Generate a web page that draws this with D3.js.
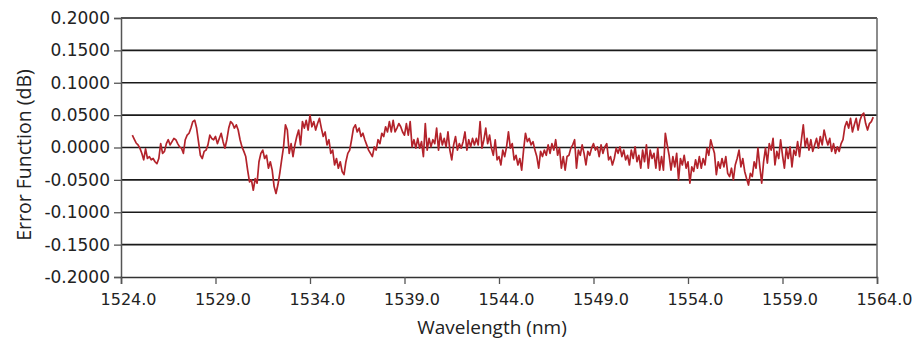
<!DOCTYPE html>
<html>
<head>
<meta charset="utf-8">
<script src="https://cdn.jsdelivr.net/npm/d3@7"></script>
<style>
  html, body { margin: 0; padding: 0; background: #ffffff; }
  svg { display: block; }
</style>
</head>
<body>
<svg id="chart" width="920" height="341"></svg>
<script>
// ---- data (error function in dB, sampled every 0.1 nm from 1524.6 nm) ----
const startWavelength = 1524.6;
const sampleStep = 0.1;
const errorValues = [
  0.019,0.013,0.007,0.004,-0.001,-0.009,-0.019,-0.002,-0.017,-0.014,
  -0.019,-0.017,-0.022,-0.025,-0.017,0.006,-0.009,-0.006,0.006,0.012,
  0.004,0.009,0.014,0.012,0.006,0.001,-0.001,-0.009,0.012,0.019,
  0.022,0.030,0.040,0.042,0.030,0.009,-0.012,-0.017,-0.006,-0.004,
  0.004,0.019,0.014,0.012,0.017,0.006,0.014,0.022,0.009,-0.001,
  0.012,0.030,0.040,0.037,0.030,0.035,0.027,0.012,0.001,-0.006,
  -0.014,-0.035,-0.053,-0.050,-0.066,-0.048,-0.055,-0.022,-0.009,-0.004,
  -0.017,-0.012,-0.032,-0.022,-0.035,-0.060,-0.071,-0.058,-0.040,-0.019,
  0.001,0.035,0.027,-0.009,0.006,-0.014,0.004,0.017,0.027,0.004,
  0.040,0.030,0.042,0.027,0.050,0.032,0.040,0.027,0.037,0.045,
  0.030,0.017,0.024,0.004,0.012,-0.009,-0.004,-0.027,-0.017,-0.032,
  -0.022,-0.037,-0.042,-0.022,-0.009,-0.004,0.012,0.030,0.035,0.024,
  0.030,0.017,0.022,0.012,0.004,-0.004,-0.009,-0.014,0.001,-0.004,
  0.012,0.006,0.022,0.017,0.032,0.024,0.040,0.024,0.042,0.024,
  0.030,0.037,0.032,0.024,0.019,0.037,0.019,0.040,0.001,0.012,
  -0.001,0.014,-0.001,0.009,-0.014,0.037,-0.004,0.014,0.001,0.012,
  0.006,0.030,-0.004,0.022,0.004,0.014,0.001,0.024,-0.004,-0.019,
  0.004,0.017,-0.004,0.006,-0.001,0.009,0.024,-0.004,0.012,0.001,
  0.014,0.004,0.014,0.004,0.040,-0.001,0.012,0.030,0.006,0.019,
  -0.001,-0.012,0.012,-0.019,-0.014,-0.027,-0.004,-0.014,0.001,0.024,
  -0.001,0.006,-0.019,-0.012,-0.027,-0.017,-0.035,-0.004,0.022,0.009,
  0.014,0.004,0.009,-0.004,-0.014,-0.032,-0.006,-0.014,-0.004,-0.012,
  0.004,-0.009,0.006,-0.004,0.012,-0.012,-0.001,-0.032,-0.014,-0.035,
  -0.014,-0.012,-0.001,0.004,0.012,-0.032,-0.004,-0.012,0.004,-0.009,
  -0.027,-0.006,-0.012,-0.001,0.006,-0.004,0.001,-0.014,0.004,-0.009,
  0.001,0.006,-0.019,-0.014,-0.027,-0.017,-0.001,-0.009,0.001,-0.014,
  -0.004,-0.019,-0.012,-0.027,-0.004,-0.017,0.001,-0.022,-0.012,-0.032,
  -0.004,-0.022,0.004,-0.032,-0.004,-0.017,-0.009,-0.032,-0.001,-0.035,
  -0.014,-0.035,0.022,0.004,-0.012,-0.035,-0.014,-0.030,-0.009,-0.050,
  -0.017,-0.027,-0.012,-0.032,-0.022,-0.055,-0.030,-0.037,-0.019,-0.032,
  -0.014,-0.032,-0.017,-0.027,-0.001,-0.012,0.012,0.001,-0.009,-0.042,
  -0.022,-0.032,-0.017,-0.030,-0.014,-0.040,-0.045,-0.032,-0.050,-0.027,
  -0.017,-0.004,-0.030,-0.017,-0.037,-0.048,-0.058,-0.040,-0.045,-0.022,
  -0.032,-0.001,-0.030,-0.055,-0.022,-0.001,-0.024,0.006,-0.004,0.014,
  -0.027,-0.006,-0.017,0.012,-0.012,-0.032,-0.001,-0.017,0.001,-0.030,
  -0.004,-0.012,0.009,-0.014,0.012,0.035,0.001,0.014,-0.004,0.012,
  -0.006,0.004,0.014,-0.001,0.017,0.004,0.027,0.014,0.004,0.014,
  -0.006,0.006,-0.009,0.001,-0.006,0.006,0.012,0.032,0.040,0.030,
  0.045,0.024,0.035,0.045,0.027,0.042,0.050,0.053,0.037,0.027,
  0.037,0.040,0.047
];
const xTicks = [1524, 1529, 1534, 1539, 1544, 1549, 1554, 1559, 1564];
const xTickLabels = ["1524.0","1529.0","1534.0","1539.0","1544.0","1549.0","1554.0","1559.0","1564.0"];
const yTicks = [0.2, 0.15, 0.1, 0.05, 0, -0.05, -0.1, -0.15, -0.2];
const yTickLabels = ["0.2000","0.1500","0.1000","0.0500","0.0000","-0.0500","-0.1000","-0.1500","-0.2000"];
const xTitle = "Wavelength (nm)";
const yTitle = "Error Function (dB)";

// ---- layout ----
const W = 920, H = 341;
const margin = { left: 121, right: 43, top: 18, bottom: 64 };
const plotW = W - margin.left - margin.right;
const plotH = H - margin.top - margin.bottom;

const svg = d3.select("#chart");
const g = svg.append("g").attr("transform", `translate(${margin.left},${margin.top})`);

const x = d3.scaleLinear().domain([1524, 1564]).range([0, plotW]);
const y = d3.scaleLinear().domain([-0.2, 0.2]).range([plotH, 0]);

const points = errorValues.map((v, i) => ({ wl: startWavelength + i * sampleStep, v }));

const tickFont = "'DejaVu Sans', sans-serif";

// horizontal grid lines
g.append("g").selectAll("line").data(yTicks.slice(0, -1)).join("line")
  .attr("x1", 0).attr("x2", plotW)
  .attr("y1", d => y(d)).attr("y2", d => y(d))
  .attr("stroke", "#1a1a1a").attr("stroke-width", 1.6);

// right border
g.append("line")
  .attr("x1", plotW).attr("x2", plotW).attr("y1", 0).attr("y2", plotH)
  .attr("stroke", "#666").attr("stroke-width", 1.5);

// y axis
const yAxis = g.append("g")
  .call(d3.axisLeft(y).tickValues(yTicks).tickFormat((d, i) => yTickLabels[i]).tickSize(7).tickPadding(4));
yAxis.select(".domain").attr("stroke", "#555").attr("stroke-width", 1.5);
yAxis.selectAll(".tick line").attr("stroke", "#555").attr("stroke-width", 1.3);
yAxis.selectAll("text").attr("font-family", tickFont).attr("font-size", 17).attr("fill", "#222");

// x axis
const xAxis = g.append("g").attr("transform", `translate(0,${plotH})`)
  .call(d3.axisBottom(x).tickValues(xTicks).tickFormat((d, i) => xTickLabels[i]).tickSize(7).tickPadding(10));
xAxis.select(".domain").attr("stroke", "#333").attr("stroke-width", 1.5);
xAxis.selectAll(".tick line").attr("stroke", "#555").attr("stroke-width", 1.3);
xAxis.selectAll("text").attr("font-family", tickFont).attr("font-size", 16).attr("fill", "#222").attr("dx", 7);

// data line
const line = d3.line().x(d => x(d.wl)).y(d => y(d.v));
g.append("path").datum(points)
  .attr("d", line)
  .attr("fill", "none")
  .attr("stroke", "#b3232b")
  .attr("stroke-width", 1.7)
  .attr("stroke-linejoin", "round");

// titles
svg.append("text")
  .attr("x", 492).attr("y", 334)
  .attr("text-anchor", "middle")
  .attr("font-family", "'Open Sans', sans-serif").attr("font-size", 19).attr("fill", "#222")
  .text(xTitle);

svg.append("text")
  .attr("transform", "translate(31,155) rotate(-90)")
  .attr("text-anchor", "middle")
  .attr("font-family", "'Open Sans', sans-serif").attr("font-size", 19.5).attr("fill", "#222")
  .text(yTitle);
</script>
</body>
</html>
